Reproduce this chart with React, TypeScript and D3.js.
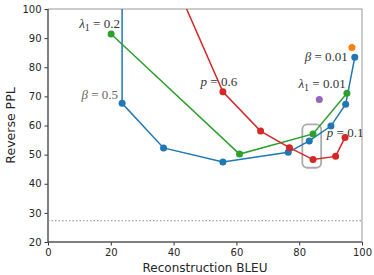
import React, { useEffect, useRef } from 'react';
import * as d3 from 'd3';

// series: [BLEU, reverse PPL]
const betaSeries = [[23.6, 125], [23.6, 67.6], [36.8, 52.3], [55.7, 47.5], [76.5, 50.8], [83.2, 54.7], [90.1, 59.8], [94.8, 67.3], [97.7, 83.4]];
const lambdaSeries = [[20.1, 91.4], [61.0, 50.2], [84.4, 57.1], [95.2, 71.1]];
const pSeries = [[36, 120], [55.7, 71.6], [67.7, 58.1], [76.9, 52.4], [84.4, 48.3], [91.6, 49.4], [94.6, 55.9]];
const singlePoints = [
  { x: 96.8, y: 86.8, color: '#ff7f0e' },
  { x: 86.4, y: 68.9, color: '#9467bd' },
];
const baselinePPL = 27.3;
const highlightBox = { x0: 81, x1: 87, y0: 45.5, y1: 60.4 };

const xTicks = [0, 20, 40, 60, 80, 100];
const yTicks = [20, 30, 40, 50, 60, 70, 80, 90, 100];

// annotations: variable, subscript, value, anchor point in data coords
const annotations = [
  { v: 'λ', sub: '1', val: '0.2', x: 22.9, y: 93.5, anchor: 'end', color: '#333' },
  { v: 'β', sub: '', val: '0.5', x: 22.3, y: 69.1, anchor: 'end', color: '#666' },
  { v: 'p', sub: '', val: '0.6', x: 48.6, y: 73.6, anchor: 'start', color: '#333' },
  { v: 'β', sub: '', val: '0.01', x: 95.5, y: 82.1, anchor: 'end', color: '#333' },
  { v: 'λ', sub: '1', val: '0.01', x: 94.8, y: 72.9, anchor: 'end', color: '#333' },
  { v: 'p', sub: '', val: '0.1', x: 88.8, y: 56.2, anchor: 'start', color: '#333' },
];

export default function App() {
  const svgRef = useRef<SVGSVGElement>(null);

  useEffect(() => {
    if (!svgRef.current) return;
    const svg = d3.select(svgRef.current);
    svg.selectAll('*').remove();

    const width = 374;
    const height = 275;
    const margin = { top: 9, right: 12, bottom: 33, left: 48 };
    const w = width - margin.left - margin.right;
    const h = height - margin.top - margin.bottom;

    const x = d3.scaleLinear().domain([0, 100]).range([0, w]);
    const y = d3.scaleLinear().domain([20, 100]).range([h, 0]);

    svg.append('rect').attr('width', width).attr('height', height).attr('fill', 'white');

    svg.append('defs').append('clipPath').attr('id', 'plot-clip')
      .append('rect').attr('width', w).attr('height', h);

    const g = svg.append('g').attr('transform', `translate(${margin.left},${margin.top})`);
    const font = 'DejaVu Sans, sans-serif';

    // axes
    const xAxis = g.append('g').attr('transform', `translate(0,${h})`)
      .call(d3.axisBottom(x).tickValues(xTicks).tickSize(3.5).tickPadding(3).tickFormat(d3.format('d')));
    const yAxis = g.append('g')
      .call(d3.axisLeft(y).tickValues(yTicks).tickSize(3.5).tickPadding(3).tickFormat(d3.format('d')));
    [xAxis, yAxis].forEach(a => {
      a.select('.domain').remove();
      a.selectAll('line').attr('stroke', '#333');
      a.selectAll('text').attr('font-family', font).attr('font-size', 10).attr('fill', '#262626');
    });

    // frame
    g.append('rect').attr('x', 0).attr('y', 0).attr('width', w).attr('height', h)
      .attr('fill', 'none').attr('stroke', '#999').attr('stroke-width', 1);
    g.append('path').attr('d', `M0,0V${h}H${w}`).attr('fill', 'none').attr('stroke', '#333').attr('stroke-width', 1);

    const plot = g.append('g').attr('clip-path', 'url(#plot-clip)');

    // baseline
    plot.append('line').attr('x1', 0).attr('x2', w).attr('y1', y(baselinePPL)).attr('y2', y(baselinePPL))
      .attr('stroke', '#888').attr('stroke-width', 1).attr('stroke-dasharray', '1.5,2');

    // highlight box
    plot.append('rect')
      .attr('x', x(highlightBox.x0)).attr('y', y(highlightBox.y1))
      .attr('width', x(highlightBox.x1) - x(highlightBox.x0))
      .attr('height', y(highlightBox.y0) - y(highlightBox.y1))
      .attr('rx', 5).attr('fill', 'none').attr('stroke', '#aaa').attr('stroke-width', 1.8);

    const line = d3.line<number[]>().x(d => x(d[0])).y(d => y(d[1]));
    const series = [
      { data: betaSeries, color: '#1f77b4' },
      { data: lambdaSeries, color: '#2ca02c' },
      { data: pSeries, color: '#d62728' },
    ];
    series.forEach(s => {
      plot.append('path').datum(s.data).attr('d', line)
        .attr('fill', 'none').attr('stroke', s.color).attr('stroke-width', 1.5);
      plot.selectAll(null).data(s.data).enter().append('circle')
        .attr('cx', d => x(d[0])).attr('cy', d => y(d[1])).attr('r', 3.5).attr('fill', s.color);
    });

    plot.selectAll(null).data(singlePoints).enter().append('circle')
      .attr('cx', d => x(d.x)).attr('cy', d => y(d.y)).attr('r', 3.5).attr('fill', d => d.color);

    // annotations
    annotations.forEach(a => {
      const t = g.append('text').attr('x', x(a.x)).attr('y', y(a.y))
        .attr('text-anchor', a.anchor).attr('font-family', 'Liberation Serif, serif')
        .attr('font-size', 13).attr('fill', a.color);
      t.append('tspan').attr('font-style', 'italic').text(a.v);
      if (a.sub) t.append('tspan').attr('font-size', 10).attr('dy', 3).text(a.sub);
      t.append('tspan').attr('dy', a.sub ? -3 : 0).text(' = ' + a.val);
    });

    // axis labels
    svg.append('text').attr('x', margin.left + w / 2).attr('y', height - 3.5)
      .attr('text-anchor', 'middle').attr('font-family', font).attr('font-size', 12).attr('fill', '#262626')
      .text('Reconstruction BLEU');
    svg.append('text').attr('transform', 'rotate(-90)').attr('x', -(margin.top + h / 2)).attr('y', 15)
      .attr('text-anchor', 'middle').attr('font-family', font).attr('font-size', 12.5).attr('fill', '#262626')
      .text('Reverse PPL');
  }, []);

  return (
    <svg ref={svgRef} width={374} height={275} style={{ position: 'absolute', left: 0, top: 0 }} />
  );
}
